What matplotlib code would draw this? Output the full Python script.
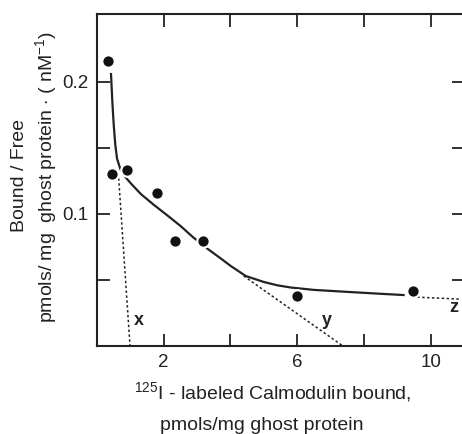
import numpy as np
import matplotlib
matplotlib.use('Agg')
import matplotlib.pyplot as plt

plt.rcParams['font.family'] = ['Liberation Sans', 'DejaVu Sans']
plt.rcParams['mathtext.fontset'] = 'custom'
plt.rcParams['mathtext.rm'] = 'Liberation Sans'
plt.rcParams['mathtext.it'] = 'Liberation Sans'

ink = '#222222'

# measured points (bound, bound/free)
bound = [0.33, 0.45, 0.9, 1.8, 2.34, 3.17, 5.99, 9.46]
ratio = [0.216, 0.130, 0.133, 0.116, 0.0795, 0.0795, 0.038, 0.042]

# fitted curve
fit_x = [0.42, 0.46, 0.5, 0.55, 0.6, 0.7, 0.85, 1.02, 1.32, 1.7, 2.13, 2.5, 2.87,
         3.32, 3.7, 4.01, 4.46, 5.0, 5.4, 5.81, 6.5, 7.5, 8.4, 9.19]
fit_y = [0.206, 0.185, 0.168, 0.152, 0.142, 0.134, 0.128, 0.123, 0.115, 0.107,
         0.0985, 0.091, 0.0826, 0.0735, 0.0665, 0.0606, 0.053, 0.0485, 0.046,
         0.0443, 0.0425, 0.041, 0.0397, 0.0386]

# component lines x, y, z
line_x = ([0.65, 0.99], [0.127, 0.0])
line_y = ([4.4, 7.37], [0.053, 0.0])
line_z = ([9.6, 10.9], [0.037, 0.0355])
comp_labels = ['x', 'y', 'z']
label_pos = [(1.26, 0.019), (6.89, 0.019), (10.7, 0.0295)]

fig = plt.figure(figsize=(4.62, 4.34), dpi=100)
ax = fig.add_axes([97 / 462, 1 - 346 / 434, 367 / 462, 332 / 434])

ax.plot(fit_x, fit_y, color=ink, lw=1.6, zorder=2)
for lx, ly in (line_x, line_y, line_z):
    ax.plot(lx, ly, color=ink, lw=1.1, ls=(0, (1.6, 1.6)), zorder=1)
ax.plot(bound, ratio, 'o', color='#111111', ms=9, mec='white', mew=1.6, zorder=3,
        clip_on=False)
for t, (px, py) in zip(comp_labels, label_pos):
    ax.text(px, py, t, fontsize=13, fontweight='bold', color=ink, ha='center', va='center')

ax.set_xlim(0, 11)
ax.set_ylim(0, 0.2515)
ax.set_xticks([2, 4, 6, 8, 10])
ax.set_xticklabels(['2', '', '6', '', '10'])
ax.set_yticks([0.05, 0.1, 0.15, 0.2])
ax.set_yticklabels(['', '0.1', '', '0.2'])
ax.tick_params(direction='in', length=9, width=1.3, top=True, right=True,
               labelsize=13.5, colors=ink, pad=6)
for s in ax.spines.values():
    s.set_linewidth(1.5)
    s.set_color(ink)

fig.text(20 / 462, 1 - 176 / 434, 'Bound / Free', rotation=90, ha='center', va='center',
         fontsize=14, color=ink)
fig.text(46 / 462, 1 - 177 / 434, r'pmols/ mg  ghost protein $\cdot$ ( nM$^{-1}$)', rotation=90,
         ha='center', va='center', fontsize=14, color=ink)
fig.text(273 / 462, 1 - 392 / 434, r'$^{125}$I - labeled Calmodulin bound,', ha='center',
         va='center', fontsize=14, color=ink)
fig.text(262 / 462, 1 - 426 / 434, 'pmols/mg ghost protein', ha='center', va='center',
         fontsize=14, color=ink)

fig.savefig('out.png', dpi=100)
